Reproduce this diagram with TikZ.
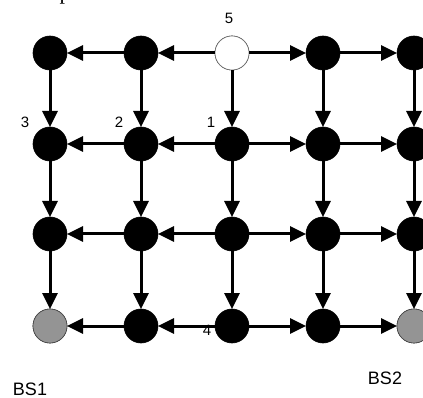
\documentclass[tikz,border=0pt]{standalone}
\usepackage{fontspec}
\setmainfont{Liberation Sans}
\newfontfamily\seriffont{Liberation Serif}
\usetikzlibrary{arrows.meta}
\begin{document}
\begin{tikzpicture}[x=1pt,y=-1pt,
  dot/.style={circle,fill=black,draw=black,line width=0.6pt,minimum size=34pt,inner sep=0pt,outer sep=0pt},
  srcdot/.style={dot,fill=white,draw=black!55},
  bsdot/.style={dot,fill=black!42,draw=black!70},
  link/.style={line width=3pt,-{Triangle[length=16pt,width=15pt]}},
  lbl/.style={font=\fontsize{15}{17}\selectfont,inner sep=0pt},
  bslbl/.style={font=\fontsize{18}{20}\selectfont,inner sep=0pt}]
\useasboundingbox (0,0) rectangle (423,398);
\fill[white] (0,0) rectangle (423,398);
% grid of nodes
\foreach \c/\x in {0/50,1/141,2/232,3/323,4/414}{
  \foreach \r/\y in {0/53,1/144,2/234,3/326}{
    \node[dot] (n\c\r) at (\x,\y) {};
  }
}
\node[srcdot] (n20) at (232,53) {};
\node[bsdot] (n03) at (50,326) {};
\node[bsdot] (n43) at (414,326) {};
% horizontal links
\foreach \r in {0,1,2,3}{
  \draw[link] (n2\r) -- (n1\r);
  \draw[link] (n1\r) -- (n0\r);
  \draw[link] (n2\r) -- (n3\r);
  \draw[link] (n3\r) -- (n4\r);
}
% vertical links
\foreach \c in {0,1,2,3,4}{
  \draw[link] (n\c0) -- (n\c1);
  \draw[link] (n\c1) -- (n\c2);
  \draw[link] (n\c2) -- (n\c3);
}
% labels
\node[lbl] (l5) at (229,18) {5};
\node[lbl] (l3) at (25,122) {3};
\node[lbl] (l2) at (119,122) {2};
\node[lbl] (l1) at (211,122) {1};
\node[lbl] (l4) at (207,330) {4};
\node[bslbl] (bs1) at (30,389.5) {BS1};
\node[bslbl] (bs2) at (385,378) {BS2};
\node[inner sep=0pt,anchor=base,font=\seriffont\fontsize{22}{24}\selectfont] (frag) at (65,0) {p};
\end{tikzpicture}
\end{document}
